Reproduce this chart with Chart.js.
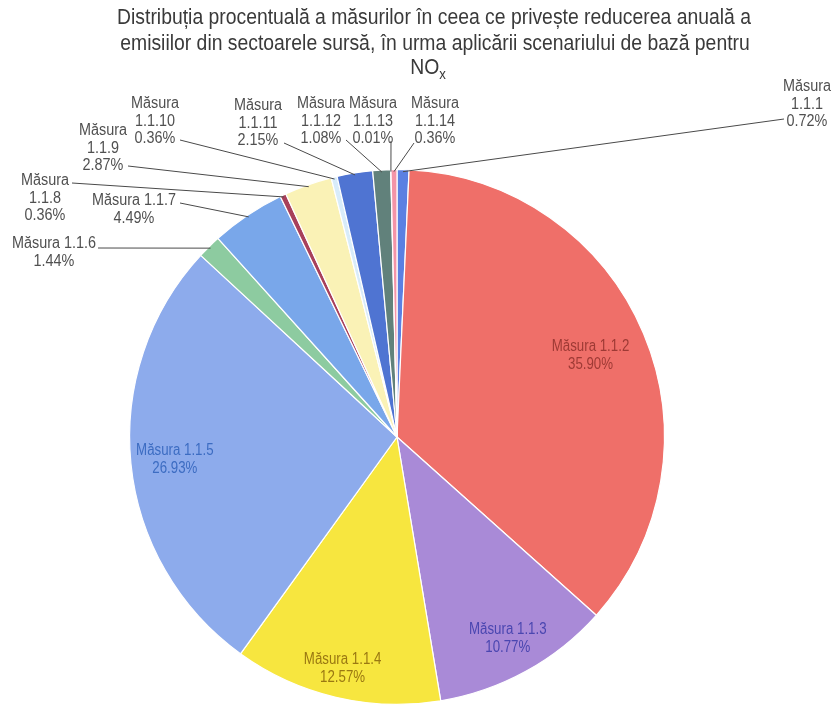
<!DOCTYPE html>
<html>
<head>
<meta charset="utf-8">
<script src="https://cdn.jsdelivr.net/npm/chart.js@4/dist/chart.umd.min.js"></script>
<style>
  html, body { margin: 0; padding: 0; background: #ffffff; }
  #wrap { position: relative; width: 835px; height: 711px; }
</style>
</head>
<body>
<div id="wrap"><canvas id="c" width="835" height="711"></canvas></div>
<script>
// ---- data ----
const categories = ['Măsura 1.1.1','Măsura 1.1.2','Măsura 1.1.3','Măsura 1.1.4','Măsura 1.1.5','Măsura 1.1.6','Măsura 1.1.7','Măsura 1.1.8','Măsura 1.1.9','Măsura 1.1.10','Măsura 1.1.11','Măsura 1.1.12','Măsura 1.1.13','Măsura 1.1.14'];
const shares = [0.72, 35.90, 10.77, 12.57, 26.93, 1.44, 4.49, 0.36, 2.87, 0.36, 2.15, 1.08, 0.01, 0.36];
const titleLines = ['Distribuția procentuală a măsurilor în ceea ce privește reducerea anuală a', 'emisiilor din sectoarele sursă, în urma aplicării scenariului de bază pentru', 'NO', 'x'];

// ---- styles ----
const sliceColors = ['#5B80E2','#EF6F69','#A98AD7','#F7E63F','#8DABEC','#8DCBA0','#79A7EA','#A8405A','#FAF2B6','#D8ECFA','#4F74D2','#61817B','#2F3F3A','#F494A7'];
const FONT = '"Liberation Sans", Arial, sans-serif';

// label layout: 'in' => fraction of radius along the slice's mid angle; 'out' => text block at position, leader from (lx,ly) to slice edge
const labelLayout = [
  {mode:'out', x:807, y:87, lines:['Măsura','1.1.1','0.72%'], lx:784, ly:119},
  {mode:'in', f:0.785, color:'#9E3A35'},
  {mode:'in', f:0.86, color:'#4A46B0'},
  {mode:'in', f:0.89, color:'#9A7812'},
  {mode:'in', f:0.835, color:'#3C6CC2'},
  {mode:'out', x:54, y:244, lines:['Măsura 1.1.6','1.44%'], lx:98, ly:248},
  {mode:'out', x:134, y:201, lines:['Măsura 1.1.7','4.49%'], lx:180, ly:203},
  {mode:'out', x:45, y:181, lines:['Măsura','1.1.8','0.36%'], lx:72, ly:183},
  {mode:'out', x:103, y:131, lines:['Măsura','1.1.9','2.87%'], lx:128, ly:166},
  {mode:'out', x:155, y:104, lines:['Măsura','1.1.10','0.36%'], lx:180, ly:140},
  {mode:'out', x:258, y:106, lines:['Măsura','1.1.11','2.15%'], lx:284, ly:143},
  {mode:'out', x:321, y:104, lines:['Măsura','1.1.12','1.08%'], lx:346, ly:140},
  {mode:'out', x:373, y:104, lines:['Măsura','1.1.13','0.01%'], lx:391, ly:141},
  {mode:'out', x:435, y:104, lines:['Măsura','1.1.14','0.36%'], lx:414, ly:143}
];

function narrowText(ctx, text, x, y, k) {
  ctx.save();
  ctx.translate(x, y);
  ctx.scale(k, 1);
  ctx.fillText(text, 0, 0);
  ctx.restore();
}

function pctText(v){ return v.toFixed(2) + '%'; }

const labelsPlugin = {
  id: 'pieLabels',
  afterDatasetsDraw(chart) {
    const ctx = chart.ctx;
    const meta = chart.getDatasetMeta(0);
    ctx.save();
    ctx.textAlign = 'center';
    ctx.textBaseline = 'middle';
    meta.data.forEach((arc, i) => {
      const p = arc.getProps(['x','y','startAngle','endAngle','outerRadius'], true);
      const mid = (p.startAngle + p.endAngle) / 2;
      const L = labelLayout[i];
      if (L.mode === 'in') {
        const d = p.outerRadius * L.f;
        const cx = p.x + Math.cos(mid) * d, cy = p.y + Math.sin(mid) * d;
        ctx.fillStyle = L.color;
        ctx.font = '16px ' + FONT;
        narrowText(ctx, categories[i], cx, cy - 9, 0.83);
        narrowText(ctx, pctText(shares[i]), cx, cy + 9, 0.83);
      } else {
        const ex = p.x + Math.cos(mid) * (p.outerRadius - 2), ey = p.y + Math.sin(mid) * (p.outerRadius - 2);
        ctx.strokeStyle = '#4a4a4a';
        ctx.lineWidth = 1;
        ctx.beginPath();
        ctx.moveTo(L.lx, L.ly);
        ctx.lineTo(ex, ey);
        ctx.stroke();
        ctx.fillStyle = '#505050';
        ctx.font = '16px ' + FONT;
        L.lines.forEach((t, k) => narrowText(ctx, t, L.x, L.y + k * 17.5, 0.9));
      }
    });
    // title
    const K = 0.88;
    ctx.fillStyle = '#3a3a3a';
    ctx.font = '22px ' + FONT;
    narrowText(ctx, titleLines[0], 434, 18, K);
    narrowText(ctx, titleLines[1], 435, 44, K);
    const noW = ctx.measureText(titleLines[2]).width * K;
    ctx.font = '15px ' + FONT;
    const xW = ctx.measureText(titleLines[3]).width * K;
    const startX = 428 - (noW + xW) / 2;
    ctx.textAlign = 'left';
    ctx.font = '22px ' + FONT;
    narrowText(ctx, titleLines[2], startX, 68, K);
    ctx.font = '15px ' + FONT;
    narrowText(ctx, titleLines[3], startX + noW, 75, K);
    ctx.restore();
  }
};

new Chart(document.getElementById('c'), {
  type: 'pie',
  data: {
    labels: categories,
    datasets: [{
      data: shares,
      backgroundColor: sliceColors,
      borderColor: '#ffffff',
      borderWidth: 1.2
    }]
  },
  options: {
    responsive: false,
    animation: false,
    layout: { padding: { top: 169, bottom: 6, left: 129, right: 170 } },
    plugins: { legend: { display: false }, tooltip: { enabled: false }, title: { display: false } }
  },
  plugins: [labelsPlugin]
});
</script>
</body>
</html>
